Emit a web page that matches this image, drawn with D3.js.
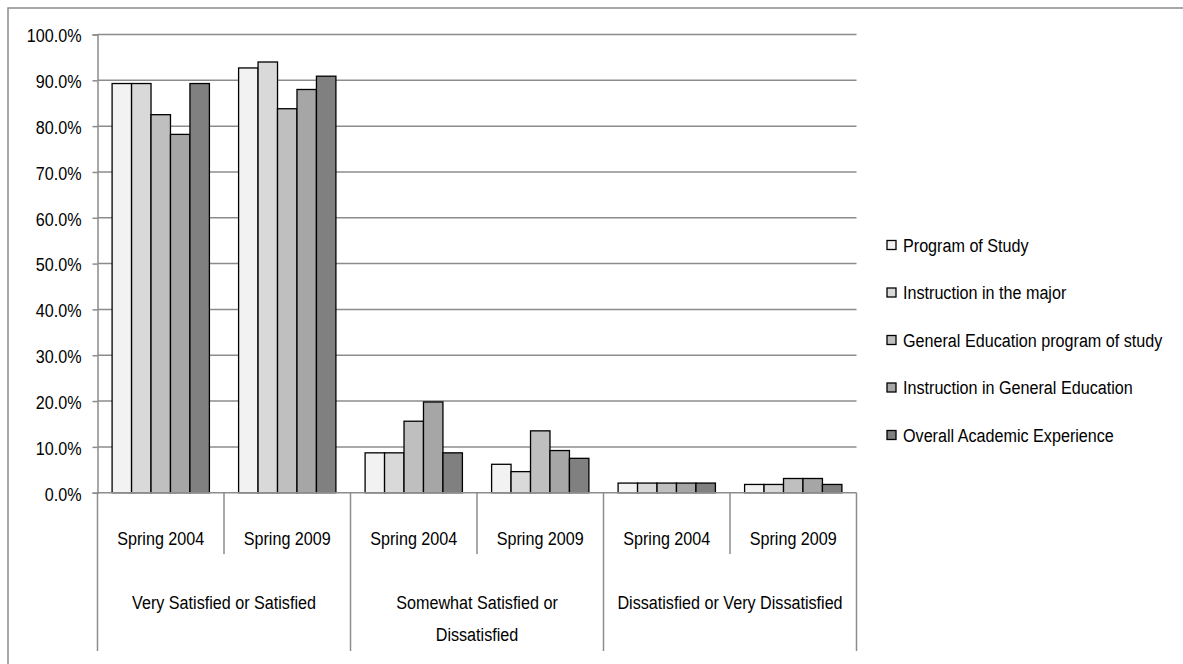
<!DOCTYPE html>
<html><head><meta charset="utf-8">
<script src="https://cdn.jsdelivr.net/npm/d3@7"></script>
<style>
html,body{margin:0;padding:0;background:#fff;}
svg text{font-family:"Liberation Sans",Arial,sans-serif;fill:#000;font-size:19px;}
</style></head>
<body><svg id="c" width="1183" height="664"></svg>
<script>
const groups = ["Very Satisfied or Satisfied", "Somewhat Satisfied or Dissatisfied", "Dissatisfied or Very Dissatisfied"];
const groupLines = [["Very Satisfied or Satisfied"], ["Somewhat Satisfied or", "Dissatisfied"], ["Dissatisfied or Very Dissatisfied"]];
const periods = ["Spring 2004", "Spring 2009"];
const series = ["Program of Study", "Instruction in the major", "General Education program of study", "Instruction in General Education", "Overall Academic Experience"];
const colors = ["#f2f2f2", "#d9d9d9", "#bfbfbf", "#a6a6a6", "#808080"];
// values per category (group x period), in series order, percent
const vsSpring2004 = [89.3, 89.3, 82.5, 78.2, 89.3];
const vsSpring2009 = [92.7, 94.0, 83.8, 88.0, 90.9];
const swSpring2004 = [8.7, 8.7, 15.6, 19.8, 8.7];
const swSpring2009 = [6.2, 4.6, 13.5, 9.2, 7.5];
const dsSpring2004 = [2.1, 2.1, 2.1, 2.1, 2.1];
const dsSpring2009 = [1.8, 1.8, 3.1, 3.1, 1.8];
const yTicks = [0, 10, 20, 30, 40, 50, 60, 70, 80, 90, 100];

const values = [vsSpring2004, vsSpring2009, swSpring2004, swSpring2009, dsSpring2004, dsSpring2009];
const cats = [];
groups.forEach((g, gi) => periods.forEach((p, pi) => cats.push({id: gi + "|" + pi, g: gi, p: p, vals: values[gi * 2 + pi]})));

const SX = 0.85; // horizontal condensation to mimic a narrow face
function place(sel, fx, fy) {
  sel.attr("x", 0).attr("y", 0)
     .attr("transform", function (d, i) { return `translate(${fx(d, i)},${fy(d, i)}) scale(${SX},1)`; });
}

const svg = d3.select("#c");
const L = 97.5, R = 856.5, T = 34.5, B = 492.7;

// outer border
svg.append("rect").attr("x", 8).attr("y", 8).attr("width", 1190).attr("height", 680)
  .attr("fill", "none").attr("stroke", "#8c8c8c").attr("stroke-width", 1.5);

const x = d3.scaleBand().domain(cats.map(d => d.id)).range([L, R]).paddingInner(0).paddingOuter(0);
const xs = d3.scaleBand().domain(series).range([0, x.bandwidth()]).paddingInner(0).paddingOuter(0.75);
const y = d3.scaleLinear().domain([0, 100]).range([B, T]);
const color = d3.scaleOrdinal().domain(series).range(colors);

// gridlines
svg.append("g").selectAll("line").data(yTicks.filter(t => t > 0)).join("line")
  .attr("x1", L).attr("x2", R).attr("y1", d => y(d)).attr("y2", d => y(d))
  .attr("stroke", "#8c8c8c").attr("stroke-width", 1.5);

// y axis
const yAxis = d3.axisLeft(y).tickValues(yTicks).tickFormat(d => d3.format(".1f")(d) + "%").tickSize(5).tickPadding(10);
const ya = svg.append("g").attr("transform", `translate(${L},0)`).call(yAxis);
ya.attr("font-family", null).attr("font-size", null);
ya.select(".domain").attr("stroke", "#8c8c8c").attr("stroke-width", 1.5);
ya.selectAll(".tick line").attr("stroke", "#8c8c8c").attr("stroke-width", 1.5);
const yt = ya.selectAll(".tick text").attr("dy", "0.36em");
place(yt, () => -16, () => 0.5);

// bars
const cg = svg.append("g").selectAll("g").data(cats).join("g").attr("transform", d => `translate(${x(d.id)},0)`);
cg.selectAll("rect").data(d => d.vals.map((v, i) => ({s: series[i], v: v}))).join("rect")
  .attr("x", d => xs(d.s)).attr("width", xs.bandwidth())
  .attr("y", d => y(d.v)).attr("height", d => y(0) - y(d.v))
  .attr("fill", d => color(d.s)).attr("stroke", "#000").attr("stroke-width", 1.3);

// x baseline
svg.append("line").attr("x1", L).attr("x2", R).attr("y1", B).attr("y2", B).attr("stroke", "#8c8c8c").attr("stroke-width", 1.5);

// category separators
const bounds = d3.range(cats.length + 1).map(i => i === cats.length ? R : x(cats[i].id));
svg.append("g").selectAll("line").data(bounds).join("line")
  .attr("x1", d => d).attr("x2", d => d).attr("y1", B)
  .attr("y2", (d, i) => i % 2 === 0 ? 651 : 554)
  .attr("stroke", "#8c8c8c").attr("stroke-width", 1.5);

// period labels
const pt = svg.append("g").selectAll("text").data(cats).join("text")
  .attr("dy", "0.36em").attr("text-anchor", "middle").text(d => d.p);
place(pt, d => x(d.id) + x.bandwidth() / 2, () => 538);

// group labels
const gl = svg.append("g").selectAll("text").data(groupLines).join("text")
  .attr("text-anchor", "middle");
place(gl, (d, i) => x(i + "|0") + x.bandwidth(), () => 602);
gl.selectAll("tspan").data(d => d).join("tspan")
  .attr("x", 0)
  .attr("dy", (d, i) => i === 0 ? "0.36em" : "1.68em").text(d => d);

// legend
const lg = svg.append("g").selectAll("g").data(series).join("g")
  .attr("transform", (d, i) => `translate(887,${245 + i * 47.5})`);
lg.append("rect").attr("x", 0).attr("y", -4.5).attr("width", 9).attr("height", 9)
  .attr("fill", d => color(d)).attr("stroke", "#000").attr("stroke-width", 1.3);
const lt = lg.append("text").attr("dy", "0.36em").text(d => d);
place(lt, () => 16, () => 0);
</script></body></html>
